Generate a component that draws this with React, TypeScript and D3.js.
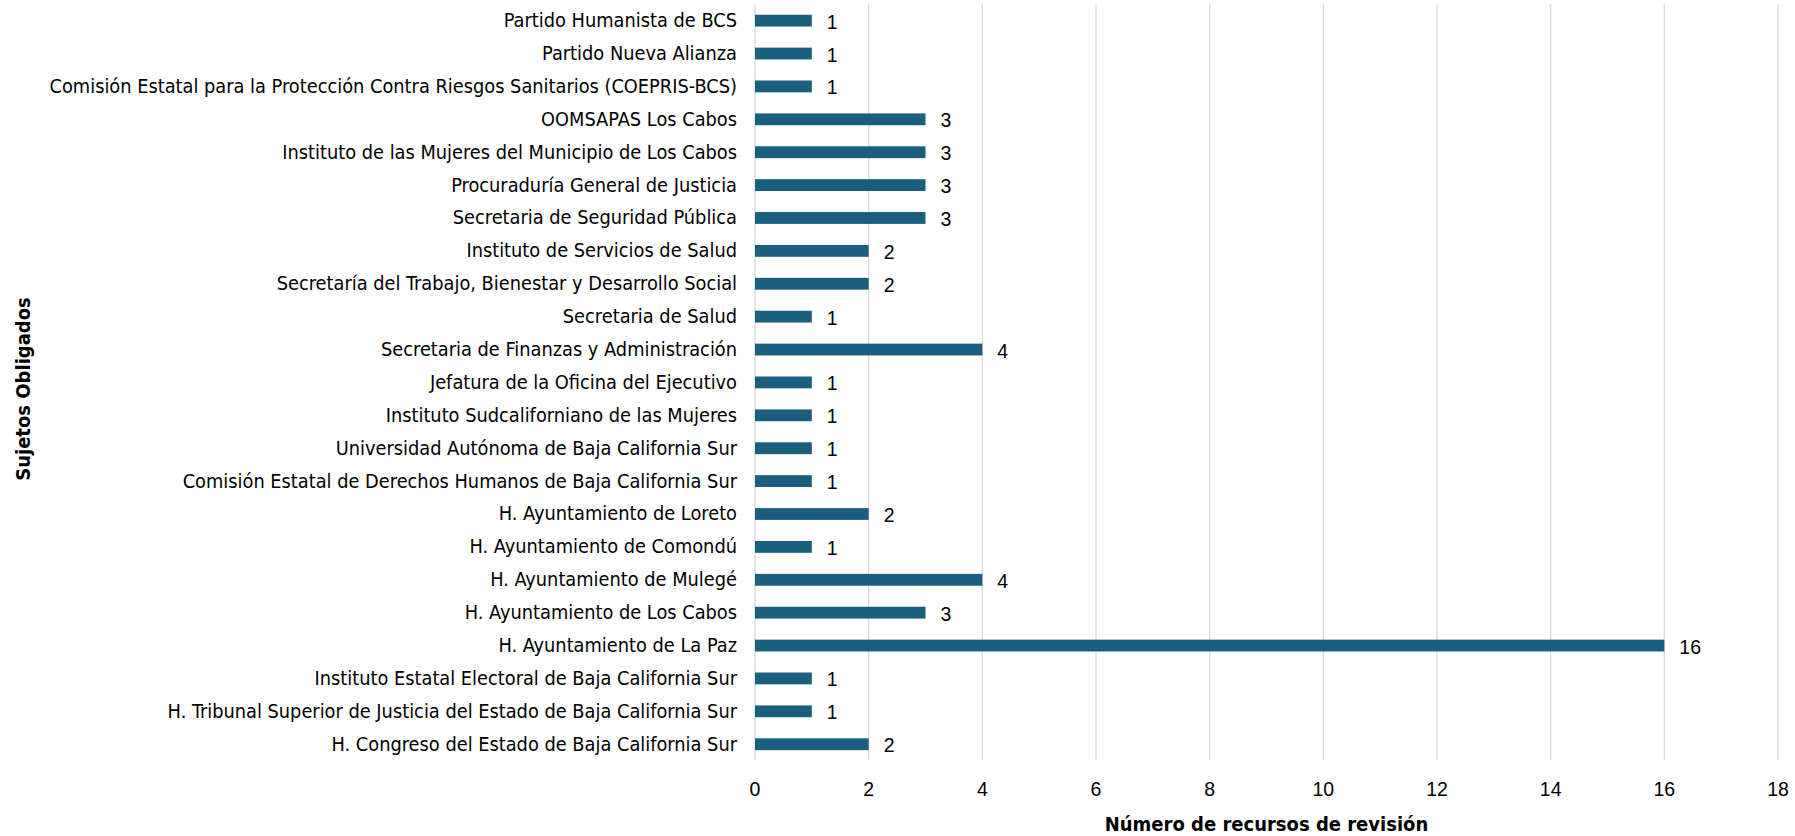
import React from "react";
import * as d3 from "d3";

const categories: string[] = [
  "Partido Humanista de BCS",
  "Partido Nueva Alianza",
  "Comisión Estatal para la Protección Contra Riesgos Sanitarios (COEPRIS-BCS)",
  "OOMSAPAS Los Cabos",
  "Instituto de las Mujeres del Municipio de Los Cabos",
  "Procuraduría General de Justicia",
  "Secretaria de Seguridad Pública",
  "Instituto de Servicios de Salud",
  "Secretaría del Trabajo, Bienestar y Desarrollo Social",
  "Secretaria de Salud",
  "Secretaria de Finanzas y Administración",
  "Jefatura de la Oficina del Ejecutivo",
  "Instituto Sudcaliforniano de las Mujeres",
  "Universidad Autónoma de Baja California Sur",
  "Comisión Estatal de Derechos Humanos de Baja California Sur",
  "H. Ayuntamiento de Loreto",
  "H. Ayuntamiento de Comondú",
  "H. Ayuntamiento de Mulegé",
  "H. Ayuntamiento de Los Cabos",
  "H. Ayuntamiento de La Paz",
  "Instituto Estatal Electoral de Baja California Sur",
  "H. Tribunal Superior de Justicia del Estado de Baja California Sur",
  "H. Congreso del Estado de Baja California Sur",
];

const values: number[] = [1, 1, 1, 3, 3, 3, 3, 2, 2, 1, 4, 1, 1, 1, 1, 2, 1, 4, 3, 16, 1, 1, 2];

const xTicks: number[] = [0, 2, 4, 6, 8, 10, 12, 14, 16, 18];

const xTitle = "Número de recursos de revisión";
const yTitle = "Sujetos Obligados";

const W = 1795;
const H = 836;
const NARROW = "'DejaVu Sans Condensed', 'Liberation Sans Narrow', sans-serif";
const REG = "'Liberation Sans', Arial, sans-serif";
const BAR = "#1b5f80";

export default function App() {
  const left = 755;
  const right = 1778;
  const top = 4.2;
  const bottom = 760;

  const x = d3.scaleLinear().domain([0, 18]).range([left, right]);
  const y = d3
    .scaleBand<string>()
    .domain(categories)
    .range([top, top + 32.89 * categories.length])
    .paddingInner(0.64)
    .paddingOuter(0.32);

  return (
    <svg
      width={W}
      height={H}
      style={{ position: "absolute", left: 0, top: 0, background: "#fff" }}
    >
      {xTicks.map((t) => (
        <line key={"g" + t} x1={x(t)} x2={x(t)} y1={top} y2={bottom} stroke="#d9d9d9" strokeWidth={1.3} />
      ))}
      {categories.map((c, i) => (
        <g key={c}>
          <rect x={x(0)} y={y(c)!} width={x(values[i]) - x(0)} height={y.bandwidth()} fill={BAR} />
          <text
            x={x(0) - 18}
            y={y(c)! + y.bandwidth() / 2}
            textAnchor="end"
            dominantBaseline="central"
            fontSize={19.8}
            fontFamily={NARROW}
            fill="#000"
          >
            {c}
          </text>
          <text
            x={x(values[i]) + 15}
            y={y(c)! + y.bandwidth() / 2 + 1}
            dominantBaseline="central"
            fontSize={19.5}
            fontFamily={REG}
            fill="#000"
          >
            {values[i]}
          </text>
        </g>
      ))}
      {xTicks.map((t) => (
        <text
          key={"t" + t}
          x={x(t)}
          y={789}
          textAnchor="middle"
          dominantBaseline="central"
          fontSize={19.5}
          fontFamily={REG}
          fill="#000"
        >
          {t}
        </text>
      ))}
      <text
        x={(left + right) / 2}
        y={824}
        textAnchor="middle"
        dominantBaseline="central"
        fontSize={20}
        fontWeight="bold"
        fontFamily={NARROW}
        fill="#000"
      >
        {xTitle}
      </text>
      <text
        transform={`translate(23, 389) rotate(-90)`}
        textAnchor="middle"
        dominantBaseline="central"
        fontSize={20}
        fontWeight="bold"
        fontFamily={NARROW}
        fill="#000"
      >
        {yTitle}
      </text>
    </svg>
  );
}
